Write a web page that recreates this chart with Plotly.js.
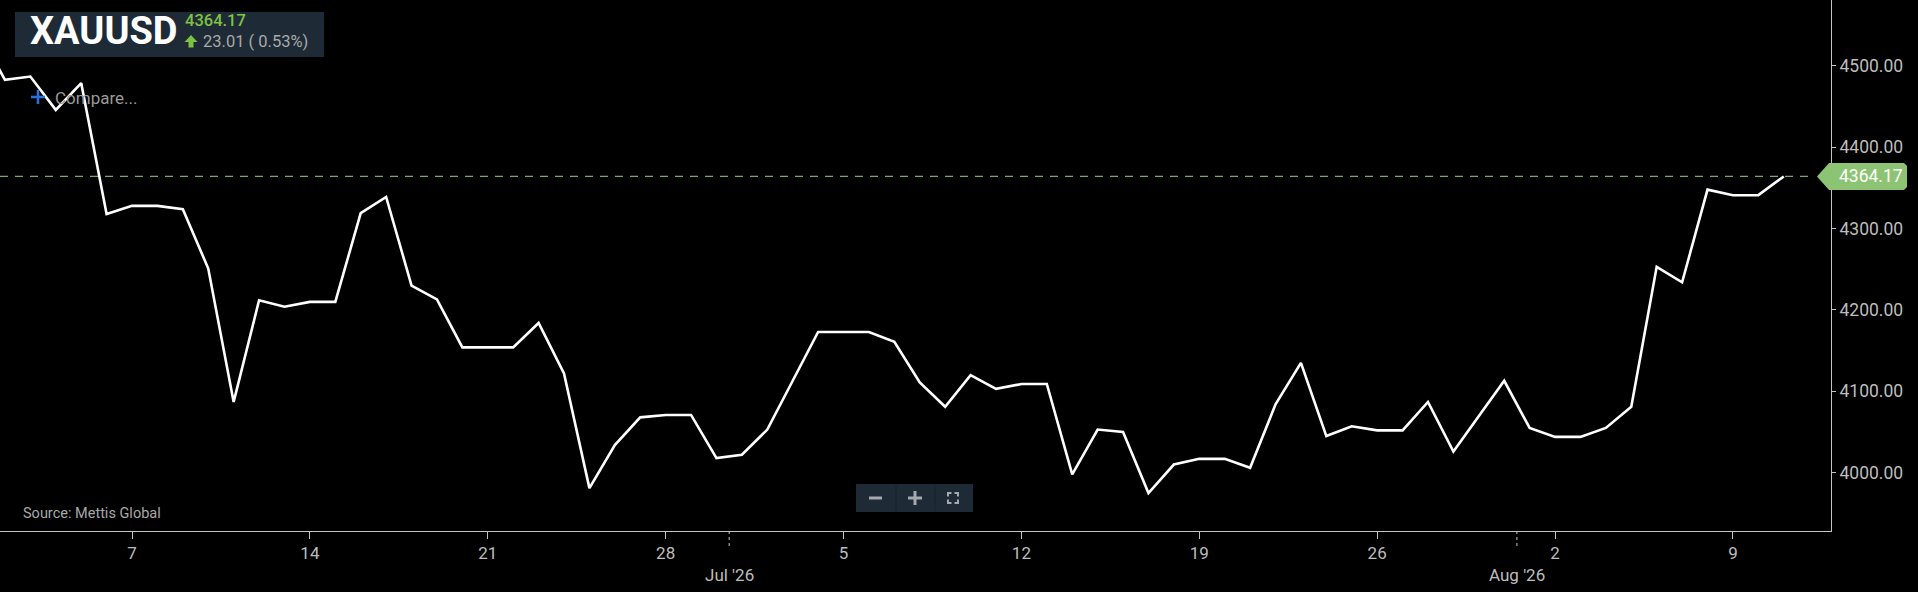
<!DOCTYPE html>
<html>
<head>
<meta charset="utf-8">
<script src="https://cdn.plot.ly/plotly-3.0.1.min.js"></script>
<style>
  html, body { margin: 0; padding: 0; background: #000; }
  #chart { width: 1918px; height: 592px; }
</style>
</head>
<body>
<div id="chart"></div>
<script>
// ---- data ----
const dates = [
  '2026-06-01','2026-06-02','2026-06-03','2026-06-04','2026-06-05','2026-06-06','2026-06-07','2026-06-08','2026-06-09','2026-06-10',
  '2026-06-11','2026-06-12','2026-06-13','2026-06-14','2026-06-15','2026-06-16','2026-06-17','2026-06-18','2026-06-19','2026-06-20',
  '2026-06-21','2026-06-22','2026-06-23','2026-06-24','2026-06-25','2026-06-26','2026-06-27','2026-06-28','2026-06-29','2026-06-30',
  '2026-07-01','2026-07-02','2026-07-03','2026-07-04','2026-07-05','2026-07-06','2026-07-07','2026-07-08','2026-07-09','2026-07-10',
  '2026-07-11','2026-07-12','2026-07-13','2026-07-14','2026-07-15','2026-07-16','2026-07-17','2026-07-18','2026-07-19','2026-07-20',
  '2026-07-21','2026-07-22','2026-07-23','2026-07-24','2026-07-25','2026-07-26','2026-07-27','2026-07-28','2026-07-29','2026-07-30',
  '2026-07-31','2026-08-01','2026-08-02','2026-08-03','2026-08-04','2026-08-05','2026-08-06','2026-08-07','2026-08-08','2026-08-09',
  '2026-08-10','2026-08-11'
];
const prices = [
  4540, 4483, 4487, 4446, 4479, 4318, 4328, 4328, 4324, 4251,
  4087, 4212, 4204, 4210, 4210, 4319, 4339, 4230, 4213, 4154,
  4154, 4154, 4184, 4122, 3981, 4034, 4068, 4071, 4071, 4018,
  4022, 4053, 4113, 4173, 4173, 4173, 4161, 4111, 4081, 4120,
  4103, 4109, 4109, 3998, 4053, 4050, 3975, 4010, 4017, 4017,
  4006, 4084, 4135, 4045, 4057, 4052, 4052, 4087, 4026, 4069,
  4113, 4055, 4044, 4044, 4055, 4081, 4253, 4234, 4348, 4341,
  4341.16, 4364.17
];
const xTickDates = ['2026-06-07','2026-06-14','2026-06-21','2026-06-28','2026-07-05','2026-07-12','2026-07-19','2026-07-26','2026-08-02','2026-08-09'];
const xTickLabels = ['7','14','21','28','5','12','19','26','2','9'];
const monthBreaks = ['2026-06-30 12:00','2026-07-31 12:00'];
const monthLabels = ["Jul '26","Aug '26"];
const yTickVals = [4000, 4100, 4200, 4300, 4400, 4500];
const symbol = 'XAUUSD';
const lastPrice = 4364.17;
const change = 23.01;
const changePct = 0.53;
const sourceText = 'Source: Mettis Global';

// ---- geometry helpers (pixel -> paper) ----
const W = 1918, H = 592;
const M = {l: 0, r: 87, t: 0, b: 61};
const PW = W - M.l - M.r, PH = H - M.t - M.b;
const px = x => (x - M.l) / PW;
const py = y => (H - M.b - y) / PH;
const Y0 = 3928.3, Y1 = 4581.1;
const unitPerPx = (Y1 - Y0) / PH;

const FONT = 'Roboto, "Open Sans", sans-serif';
const axisCol = '#c4c4c4';
const textCol = '#bdbdbd';
const headerBg = '#1e2a36';
const green = '#8cc474';

const trace = {
  x: dates, y: prices, type: 'scatter', mode: 'lines',
  line: {color: '#ffffff', width: 2.6, shape: 'linear'},
  hoverinfo: 'skip'
};

const shapes = [];
const annotations = [];

// last price dashed line
shapes.push({type: 'line', xref: 'paper', yref: 'y', x0: 0, x1: px(1814), y0: lastPrice, y1: lastPrice,
  line: {color: '#7ea66a', width: 1.2, dash: '8px,7px'}, layer: 'below'});

// price label (pentagon)
const hh = 13.5 * unitPerPx;
const lp = (x, dy) => px(x) + ',' + (lastPrice + dy);
shapes.push({type: 'path', xref: 'paper', yref: 'y',
  path: 'M' + lp(1817, 0) + ' L' + lp(1829, hh) + ' L' + lp(1904, hh) + ' L' + lp(1907, hh - 3*unitPerPx) +
        ' L' + lp(1907, -hh + 3*unitPerPx) + ' L' + lp(1904, -hh) + ' L' + lp(1829, -hh) + ' Z',
  fillcolor: green, line: {width: 0}});
annotations.push({xref: 'paper', yref: 'y', x: px(1871), y: lastPrice, text: lastPrice.toFixed(2),
  showarrow: false, xanchor: 'center', yanchor: 'middle',
  font: {family: FONT, size: 17.5, color: '#ffffff'}});

// month separators (dotted) + labels
monthBreaks.forEach((d, i) => {
  shapes.push({type: 'line', xref: 'x', yref: 'paper', x0: d, x1: d, y0: 0, y1: py(549),
    line: {color: axisCol, width: 1, dash: 'dot'}});
  annotations.push({xref: 'x', yref: 'paper', x: d, y: py(575), text: monthLabels[i], showarrow: false,
    xanchor: 'center', yanchor: 'middle', font: {family: FONT, size: 17, color: textCol}});
});

// header box
shapes.push({type: 'rect', xref: 'paper', yref: 'paper', x0: px(15), x1: px(324), y0: py(57), y1: py(12),
  fillcolor: headerBg, line: {width: 0}});
annotations.push({xref: 'paper', yref: 'paper', x: px(28), y: py(31), text: '<b>' + symbol + '</b>', showarrow: false,
  xanchor: 'left', yanchor: 'middle', font: {family: FONT, size: 38, color: '#ffffff', weight: 900}});
annotations.push({xref: 'paper', yref: 'paper', x: px(183), y: py(21), text: lastPrice.toFixed(2), showarrow: false,
  xanchor: 'left', yanchor: 'middle', font: {family: FONT, size: 16.5, color: '#7dc243', weight: 500}});
annotations.push({xref: 'paper', yref: 'paper', x: px(201), y: py(41), text: change.toFixed(2) + ' ( ' + changePct.toFixed(2) + '%)', showarrow: false,
  xanchor: 'left', yanchor: 'middle', font: {family: FONT, size: 16.5, color: '#a9a9a9'}});
// up arrow glyph
const pp = (x, y) => px(x) + ',' + py(y);
shapes.push({type: 'path', xref: 'paper', yref: 'paper',
  path: 'M' + pp(191, 35) + ' L' + pp(197.5, 42) + ' L' + pp(193.5, 42) + ' L' + pp(193.5, 47.5) +
        ' L' + pp(188.5, 47.5) + ' L' + pp(188.5, 42) + ' L' + pp(184.5, 42) + ' Z',
  fillcolor: '#7dc243', line: {width: 0}});

// compare
shapes.push({type: 'line', xref: 'paper', yref: 'paper', x0: px(31), x1: px(45), y0: py(97), y1: py(97), line: {color: '#2a6fdc', width: 2.6}});
shapes.push({type: 'line', xref: 'paper', yref: 'paper', x0: px(38), x1: px(38), y0: py(90), y1: py(104), line: {color: '#2a6fdc', width: 2.6}});
annotations.push({xref: 'paper', yref: 'paper', x: px(53), y: py(98), text: 'Compare...', showarrow: false,
  xanchor: 'left', yanchor: 'middle', font: {family: FONT, size: 17, color: '#9a9a9a'}});

// source
annotations.push({xref: 'paper', yref: 'paper', x: px(21), y: py(513), text: sourceText, showarrow: false,
  xanchor: 'left', yanchor: 'middle', font: {family: FONT, size: 14.5, color: '#a8a8a8'}});

// zoom control
shapes.push({type: 'rect', xref: 'paper', yref: 'paper', x0: px(856), x1: px(973), y0: py(512), y1: py(484),
  fillcolor: headerBg, line: {width: 0}});
[896, 935].forEach(x => shapes.push({type: 'line', xref: 'paper', yref: 'paper', x0: px(x), x1: px(x), y0: py(485), y1: py(511),
  line: {color: '#18222c', width: 1}}));
const iconCol = '#a3a9ae';
shapes.push({type: 'line', xref: 'paper', yref: 'paper', x0: px(869), x1: px(882), y0: py(498), y1: py(498), line: {color: iconCol, width: 3}});
shapes.push({type: 'line', xref: 'paper', yref: 'paper', x0: px(908), x1: px(922), y0: py(498), y1: py(498), line: {color: iconCol, width: 3}});
shapes.push({type: 'line', xref: 'paper', yref: 'paper', x0: px(915), x1: px(915), y0: py(491), y1: py(505), line: {color: iconCol, width: 3}});
const fc = [[948, 493, 1, 1], [958, 493, -1, 1], [948, 503, 1, -1], [958, 503, -1, -1]];
fc.forEach(([x, y, sx, sy]) => shapes.push({type: 'path', xref: 'paper', yref: 'paper',
  path: 'M' + pp(x, y + 3.5 * sy) + ' L' + pp(x, y) + ' L' + pp(x + 3.5 * sx, y),
  line: {color: iconCol, width: 2}}));

const layout = {
  width: W, height: H,
  margin: {l: M.l, r: M.r, t: M.t, b: M.b, pad: 0},
  paper_bgcolor: '#000000', plot_bgcolor: '#000000',
  showlegend: false,
  font: {family: FONT, color: textCol},
  xaxis: {
    type: 'date', range: ['2026-06-01 19:19', '2026-08-12 20:38'],
    showgrid: false, zeroline: false, showline: true, linecolor: axisCol, linewidth: 1,
    ticks: 'outside', ticklen: 7, tickcolor: axisCol, tickwidth: 1,
    tickmode: 'array', tickvals: xTickDates, ticktext: xTickLabels,
    tickfont: {family: FONT, size: 17, color: textCol}, fixedrange: true
  },
  yaxis: {
    side: 'right', range: [Y0, Y1],
    showgrid: false, zeroline: false, showline: true, linecolor: axisCol, linewidth: 1,
    ticks: 'outside', ticklen: 4, tickcolor: axisCol, tickwidth: 1,
    tickmode: 'array', tickvals: yTickVals, tickformat: '.2f',
    tickfont: {family: FONT, size: 17.5, color: textCol}, fixedrange: true
  },
  shapes: shapes,
  annotations: annotations
};

Plotly.newPlot('chart', [trace], layout, {displayModeBar: false, staticPlot: true});
</script>
</body>
</html>
